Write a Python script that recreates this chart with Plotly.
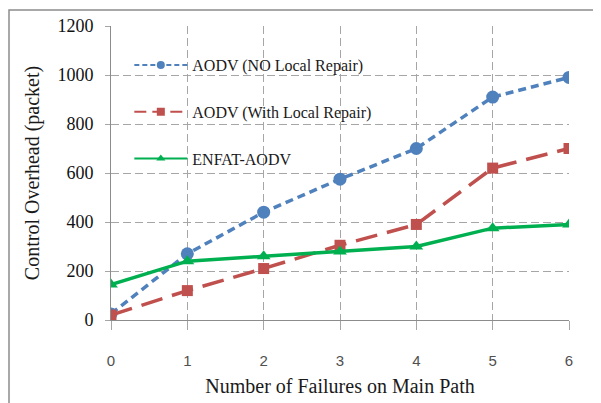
import plotly.graph_objects as go

failures = [0, 1, 2, 3, 4, 5, 6]
aodv_no_repair = [25, 270, 440, 575, 700, 910, 990]
aodv_with_repair = [20, 120, 210, 305, 390, 620, 700]
enfat_aodv = [145, 240, 260, 280, 300, 375, 390]
y_ticks = [0, 200, 400, 600, 800, 1000, 1200]

series = [
    ("AODV (NO Local Repair)", aodv_no_repair, "#4F81BD", "8px,5px", "5px,3px", "circle", 13, 8),
    ("AODV (With Local Repair)", aodv_with_repair, "#C0504D", "22px,10px", "12px,6px", "square", 11, 8),
    ("ENFAT-AODV", enfat_aodv, "#00B050", "solid", "solid", "triangle-up", 12, 8),
]

fig = go.Figure()
for name, vals, color, dash, ldash, sym, size, lsize in series:
    fig.add_trace(go.Scatter(
        x=failures, y=vals, name=name, mode="lines+markers", showlegend=False,
        line=dict(color=color, width=3.5, dash=dash),
        marker=dict(symbol=sym, size=size, color=color)))
for i, (name, vals, color, dash, ldash, sym, size, lsize) in enumerate(series):
    fig.add_trace(go.Scatter(
        x=[None], y=[None], name=name, mode="lines+markers", legendgroup=str(i),
        line=dict(color=color, width=2, dash=ldash),
        marker=dict(symbol=sym, size=lsize, color=color)))

L, T, R, B = 103, 18, 40, 91
plot_w = 601 - L - R
plot_h = 403 - T - B

fig.update_layout(
    width=601, height=403,
    margin=dict(l=L, r=R, t=T, b=B),
    paper_bgcolor="white", plot_bgcolor="white",
    showlegend=True,
    legend=dict(x=0.04, y=0.925, xanchor="left", yanchor="top",
                bgcolor="rgba(0,0,0,0)", tracegroupgap=23, itemwidth=53,
                font=dict(family="Liberation Serif", size=16, color="#1a1a1a")),
    xaxis=dict(range=[0, 6], tickvals=failures, showgrid=True, automargin=False,
               gridcolor="#A6A6A6", griddash="8px,4px", gridwidth=1,
               showline=True, linecolor="#8C8C8C", linewidth=1,
               ticks="outside", ticklen=9, tickcolor="#A6A6A6",
               ticklabelstandoff=18, zeroline=False,
               tickfont=dict(family="Liberation Sans", size=15, color="#505050"),
               title=dict(text="Number of Failures on Main Path", standoff=10,
                          font=dict(family="Liberation Serif", size=20, color="#1a1a1a"))),
    yaxis=dict(range=[0, 1200], tickvals=y_ticks, showgrid=True, automargin=False,
               gridcolor="#A6A6A6", griddash="8px,4px", gridwidth=1,
               showline=True, linecolor="#8C8C8C", linewidth=1,
               ticks="outside", ticklen=5, tickcolor="#A6A6A6",
               ticklabelstandoff=8, zeroline=False,
               tickfont=dict(family="Liberation Serif", size=18, color="#111111"),
               title=dict(text="Control Overhead (packet)", standoff=12,
                          font=dict(family="Liberation Serif", size=20, color="#1a1a1a"))),
    shapes=[dict(type="rect", xref="paper", yref="paper",
                 x0=(1 - L) / plot_w, x1=1.2, y0=-0.4, y1=(plot_h + 16) / plot_h,
                 line=dict(color="#8C8C8C", width=1.5), layer="below")],
)

fig.write_html("out.html")
